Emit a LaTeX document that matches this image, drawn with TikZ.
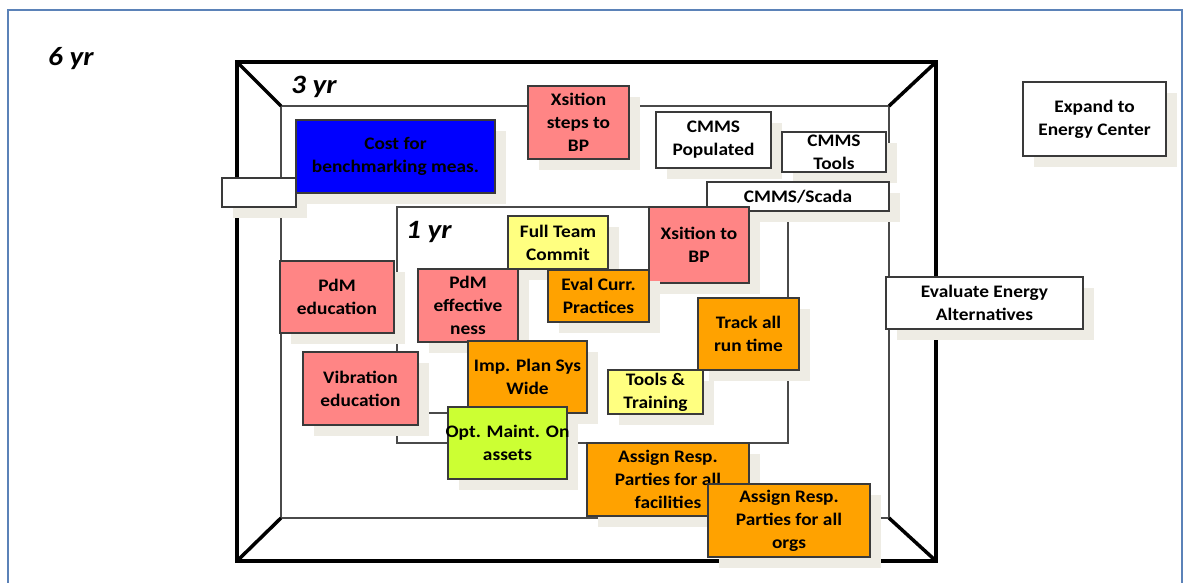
\documentclass[tikz,border=0pt]{standalone}
\usepackage{fontspec}
\setmainfont{Carlito}[FakeStretch=1.1]
\usetikzlibrary{shadows}
\definecolor{pinkbox}{HTML}{FF8585}
\definecolor{orangebox}{HTML}{FFA200}
\definecolor{yellowbox}{HTML}{FFFF80}
\definecolor{limebox}{HTML}{CCFF33}
\definecolor{bluebox}{HTML}{0000FF}
\definecolor{shade}{HTML}{EEECE4}
\definecolor{boxline}{HTML}{3A3A3A}
\definecolor{frameline}{HTML}{4A4A4A}
\definecolor{pageline}{HTML}{5B82B8}

\begin{document}
\begin{tikzpicture}[x=1pt,y=-1pt,
	box/.style={draw=boxline,line width=1.2pt,inner sep=0pt,align=center,font=\fontsize{17.6}{23}\selectfont\bfseries,drop shadow={shadow xshift=11pt,shadow yshift=-11pt,fill=shade,opacity=1}},
	year/.style={anchor=base west,inner sep=0pt,font=\fontsize{26.5}{30}\selectfont\bfseries\itshape},
	thickframe/.style={draw=black,line width=3.5pt},
	thinframe/.style={draw=frameline,line width=1.5pt}]

			\useasboundingbox (0,0) rectangle (1190,582);
			\draw[pageline,line width=1.5pt] (8,600) -- (8,10) -- (1182,10) -- (1182,600);

			\draw[thickframe] (237,62) rectangle (936,561);
			\draw[thinframe] (281,106) rectangle (889,518);
			\draw[thickframe] (237,62) -- (281,106);
			\draw[thickframe] (936,62) -- (889,106);
			\draw[thickframe] (237,561) -- (281,518);
			\draw[thickframe] (936,561) -- (889,518);
			\draw[thinframe] (397,207) rectangle (788,443);
			\draw[thinframe] (400,413) -- (470,413);

			\node (yr6)	at	(48,65) [year] {6 yr};
			\node (yr3)	at	(291,93) [year] {3 yr};
			\node (yr1)	at	(406,238) [year] {1 yr};

			\node (blank)	at	(259,192.5) [box,fill=white,minimum width=74pt,minimum height=29pt] {};
			\node (cost)	at	(395.5,156.5) [box,fill=bluebox,minimum width=199pt,minimum height=73pt] {Cost for\\benchmarking meas.};
			\node (xsteps)	at	(578.5,122.5) [box,fill=pinkbox,minimum width=101pt,minimum height=73pt] {Xsition\\steps to\\BP};
			\node (cmmspop)	at	(713.5,140) [box,fill=white,minimum width=115pt,minimum height=56pt] {CMMS\\Populated};
			\node (cmmstools)	at	(834,152) [box,fill=white,minimum width=104pt,minimum height=40pt] {CMMS\\Tools};
			\node (scada)	at	(798,196.5) [box,fill=white,minimum width=182pt,minimum height=29pt] {CMMS/Scada};
			\node (expand)	at	(1094.5,119) [box,fill=white,minimum width=143pt,minimum height=74pt] {Expand to\\Energy Center};
			\node (evalenergy)	at	(984.5,303) [box,fill=white,minimum width=197pt,minimum height=52pt] {Evaluate Energy\\Alternatives};
			\node (fullteam)	at	(558,242.5) [box,fill=yellowbox,minimum width=100pt,minimum height=53pt] {Full Team\\Commit};
			\node (xbp)	at	(699,245) [box,fill=pinkbox,minimum width=100pt,minimum height=76pt] {Xsition to\\BP};
			\node (pdmedu)	at	(337,297) [box,fill=pinkbox,minimum width=114pt,minimum height=72pt] {PdM\\education};
			\node (pdmeff)	at	(468,305.5) [box,fill=pinkbox,minimum width=100pt,minimum height=73pt] {PdM\\effective\\ness};
			\node (evalcurr)	at	(598.5,296) [box,fill=orangebox,minimum width=101pt,minimum height=52pt] {Eval Curr.\\Practices};
			\node (vibedu)	at	(360.5,388.5) [box,fill=pinkbox,minimum width=115pt,minimum height=73pt] {Vibration\\education};
			\node (impplan)	at	(527.5,377) [box,fill=orangebox,minimum width=119pt,minimum height=72pt] {Imp. Plan Sys\\Wide};
			\node (optmaint)	at	(507.5,443) [box,fill=limebox,minimum width=119pt,minimum height=72pt] {\makebox[110pt]{Opt. Maint. On}\\assets};
			\node (tools)	at	(655.5,392) [box,fill=yellowbox,minimum width=95pt,minimum height=44pt] {Tools \&\\Training};
			\node (track)	at	(748.5,334) [box,fill=orangebox,minimum width=101pt,minimum height=72pt] {Track all\\run time};
			\node (assignfac)	at	(668,479.5) [box,fill=orangebox,minimum width=162pt,minimum height=73pt] {Assign Resp.\\Parties for all\\facilities};
			\node (assignorg)	at	(789,520.5) [box,fill=orangebox,minimum width=162pt,minimum height=73pt] {Assign Resp.\\Parties for all\\orgs};

		\end{tikzpicture}
\end{document}
